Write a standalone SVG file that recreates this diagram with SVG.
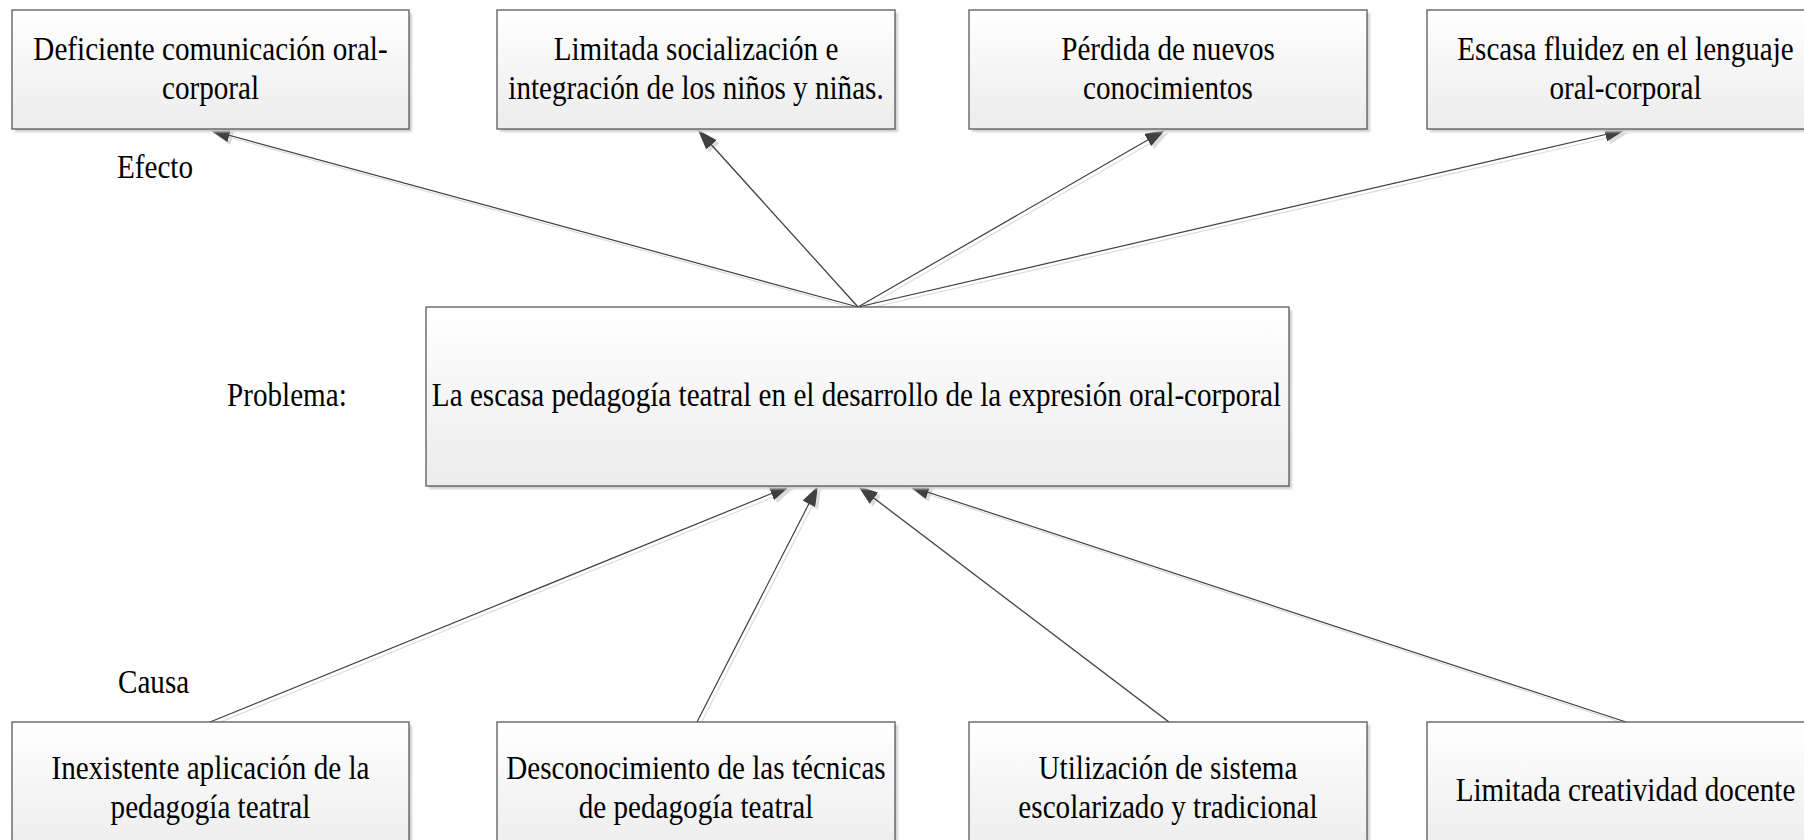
<svg xmlns="http://www.w3.org/2000/svg" width="1804" height="840" viewBox="0 0 1804 840">
<style>
.box{fill:url(#grad);stroke:#595959;stroke-width:1.3}
.shadow{fill:#cfcfcf;filter:url(#blur)}
text{font-family:'Liberation Serif',serif;font-size:34px;fill:#000}
.t{text-anchor:middle}
.c{stroke:#404040;stroke-width:1.2;fill:none;marker-end:url(#ah)}
.cs{stroke:#dcdcdc;stroke-width:1.2;fill:none;marker-end:url(#ahs)}
</style>
<defs>
<linearGradient id="grad" x1="0" y1="0" x2="0" y2="1">
<stop offset="0" stop-color="#ffffff"/>
<stop offset="1" stop-color="#ececec"/>
</linearGradient>
<filter id="blur" x="-5%" y="-5%" width="110%" height="110%"><feGaussianBlur stdDeviation="1.2"/></filter>
<marker id="ah" markerUnits="userSpaceOnUse" markerWidth="20" markerHeight="14" refX="20" refY="7" orient="auto"><path d="M0,0 L20,7 L0,14 z" fill="#404040"/></marker>
<marker id="ahs" markerUnits="userSpaceOnUse" markerWidth="20" markerHeight="14" refX="20" refY="7" orient="auto"><path d="M0,0 L20,7 L0,14 z" fill="#dcdcdc"/></marker>
</defs>
<rect width="1804" height="840" fill="#fff"/>

<g id="connectors">
<g transform="translate(3 3)">
<line class="cs" x1="858" y1="307" x2="210" y2="130"/>
<line class="cs" x1="858" y1="307" x2="698" y2="130"/>
<line class="cs" x1="858" y1="307" x2="1165" y2="130"/>
<line class="cs" x1="858" y1="307" x2="1625" y2="130"/>
<line class="cs" x1="210" y1="722" x2="790" y2="486"/>
<line class="cs" x1="697" y1="722" x2="818" y2="486"/>
<line class="cs" x1="1169" y1="722" x2="858" y2="486"/>
<line class="cs" x1="1626" y1="722" x2="909" y2="486"/>
</g>
<line class="c" x1="858" y1="307" x2="210" y2="130"/>
<line class="c" x1="858" y1="307" x2="698" y2="130"/>
<line class="c" x1="858" y1="307" x2="1165" y2="130"/>
<line class="c" x1="858" y1="307" x2="1625" y2="130"/>
<line class="c" x1="210" y1="722" x2="790" y2="486"/>
<line class="c" x1="697" y1="722" x2="818" y2="486"/>
<line class="c" x1="1169" y1="722" x2="858" y2="486"/>
<line class="c" x1="1626" y1="722" x2="909" y2="486"/>
</g>

<g id="efecto1">
<rect class="shadow" x="15" y="13" width="397" height="119"/>
<rect class="box" x="12" y="10" width="397" height="119"/>
<g transform="translate(210.5 0) scale(0.857 1)"><text class="t" x="0" y="60">Deficiente comunicación oral-</text><text class="t" x="0" y="99">corporal</text></g>
</g>
<g id="efecto2">
<rect class="shadow" x="500" y="13" width="398" height="119"/>
<rect class="box" x="497" y="10" width="398" height="119"/>
<g transform="translate(696 0) scale(0.857 1)"><text class="t" x="0" y="60">Limitada socialización e</text><text class="t" x="0" y="99">integración de los niños y niñas.</text></g>
</g>
<g id="efecto3">
<rect class="shadow" x="972" y="13" width="398" height="119"/>
<rect class="box" x="969" y="10" width="398" height="119"/>
<g transform="translate(1168 0) scale(0.857 1)"><text class="t" x="0" y="60">Pérdida de nuevos</text><text class="t" x="0" y="99">conocimientos</text></g>
</g>
<g id="efecto4">
<rect class="shadow" x="1430" y="13" width="397" height="119"/>
<rect class="box" x="1427" y="10" width="397" height="119"/>
<g transform="translate(1625.5 0) scale(0.857 1)"><text class="t" x="0" y="60">Escasa fluidez en el lenguaje</text><text class="t" x="0" y="99">oral-corporal</text></g>
</g>

<g id="label-efecto"><g transform="translate(117 0) scale(0.857 1)"><text x="0" y="178">Efecto</text></g></g>
<g id="label-problema"><g transform="translate(227 0) scale(0.857 1)"><text x="0" y="406">Problema:</text></g></g>
<g id="label-causa"><g transform="translate(118 0) scale(0.857 1)"><text x="0" y="693">Causa</text></g></g>

<g id="problema">
<rect class="shadow" x="429" y="310" width="863" height="179"/>
<rect class="box" x="426" y="307" width="863" height="179"/>
<g transform="translate(856.5 0) scale(0.857 1)"><text class="t" x="0" y="406">La escasa pedagogía teatral en el desarrollo de la expresión oral-corporal</text></g>
</g>

<g id="causa1">
<rect class="shadow" x="15" y="725" width="397" height="134"/>
<rect class="box" x="12" y="722" width="397" height="134"/>
<g transform="translate(210.5 0) scale(0.857 1)"><text class="t" x="0" y="779">Inexistente aplicación de la</text><text class="t" x="0" y="818">pedagogía teatral</text></g>
</g>
<g id="causa2">
<rect class="shadow" x="500" y="725" width="398" height="134"/>
<rect class="box" x="497" y="722" width="398" height="134"/>
<g transform="translate(696 0) scale(0.857 1)"><text class="t" x="0" y="779">Desconocimiento de las técnicas</text><text class="t" x="0" y="818">de pedagogía teatral</text></g>
</g>
<g id="causa3">
<rect class="shadow" x="972" y="725" width="398" height="134"/>
<rect class="box" x="969" y="722" width="398" height="134"/>
<g transform="translate(1168 0) scale(0.857 1)"><text class="t" x="0" y="779">Utilización de sistema</text><text class="t" x="0" y="818">escolarizado y tradicional</text></g>
</g>
<g id="causa4">
<rect class="shadow" x="1430" y="725" width="397" height="134"/>
<rect class="box" x="1427" y="722" width="397" height="134"/>
<g transform="translate(1625.5 0) scale(0.857 1)"><text class="t" x="0" y="801">Limitada creatividad docente</text></g>
</g>
</svg>
